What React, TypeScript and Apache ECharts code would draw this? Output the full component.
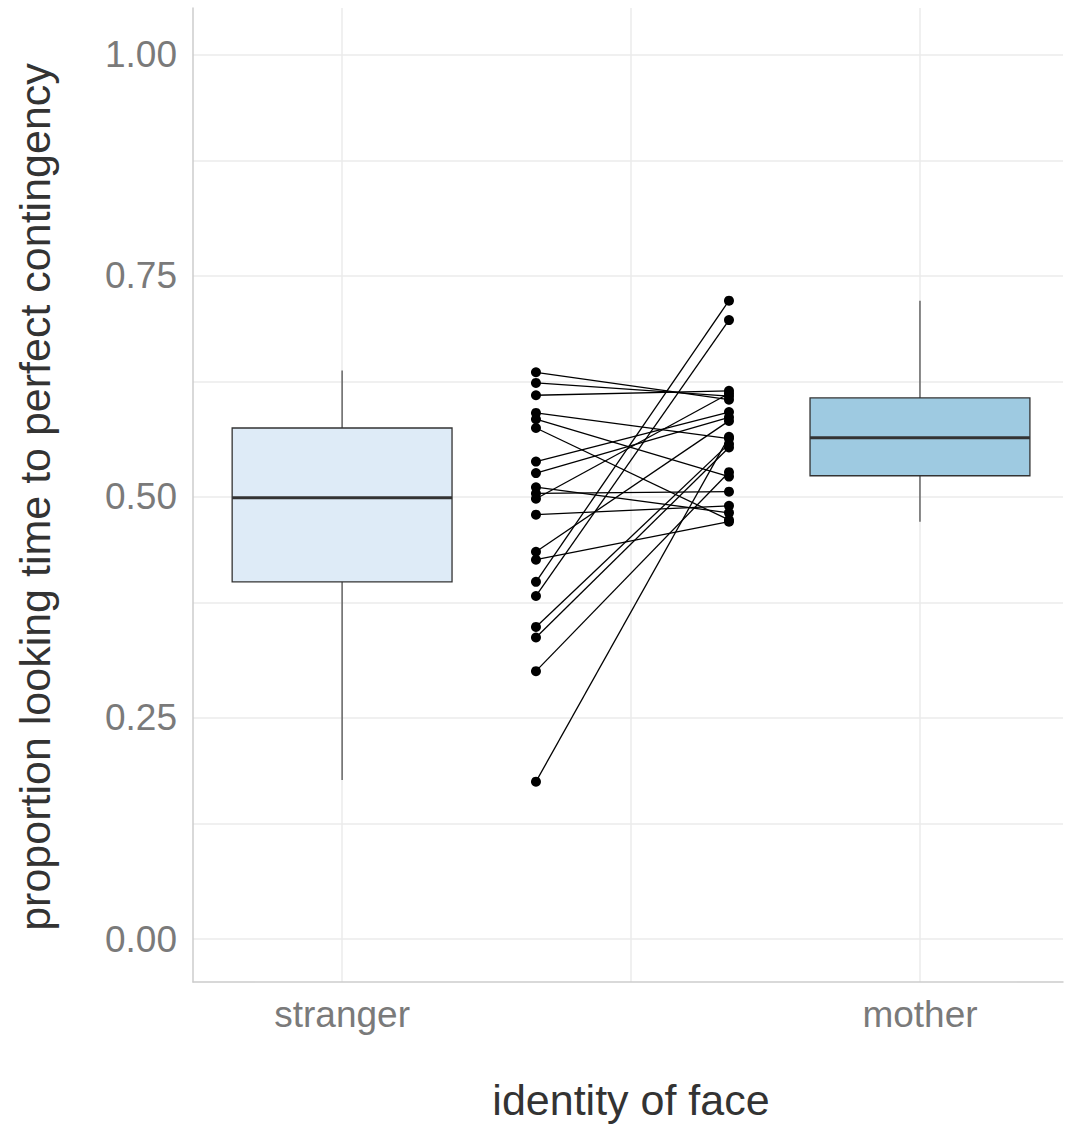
import React, { useEffect, useRef } from "react";
import * as echarts from "echarts";

// Categories on a continuous x scale (stranger = 1, mother = 3)
const categoryPositions = [1, 3];
const categoryLabels = ["stranger", "mother"];

// Box plot summaries: [x, lowerWhisker, q1, median, q3, upperWhisker]
const strangerBox = [1, 0.18, 0.404, 0.499, 0.578, 0.643];
const motherBox = [3, 0.472, 0.524, 0.567, 0.612, 0.722];
const boxFills = ["#deebf7", "#9ecae1"];

// Paired observations (per infant), drawn between the boxes
const pairX = [1.671, 2.339];
const strangerValues = [
  0.641, 0.629, 0.615, 0.595, 0.588, 0.578, 0.54, 0.527, 0.511, 0.504,
  0.498, 0.48, 0.438, 0.429, 0.404, 0.388, 0.353, 0.341, 0.303, 0.178,
];
const motherValues = [
  0.61, 0.614, 0.62, 0.566, 0.523, 0.474, 0.596, 0.59, 0.482, 0.506,
  0.617, 0.49, 0.586, 0.472, 0.722, 0.7, 0.56, 0.556, 0.528, 0.568,
];

// Tick labels and gridlines
const yTicks = [0, 0.25, 0.5, 0.75, 1];
const yGrid = [0, 0.125, 0.25, 0.375, 0.5, 0.625, 0.75, 0.875, 1];
const xGrid = [1, 2, 3];

const xTitle = "identity of face";
const yTitle = "proportion looking time to perfect contingency";

export default function App() {
  const ref = useRef<HTMLDivElement>(null);

  useEffect(() => {
    if (!ref.current) return;
    const chart = echarts.init(ref.current, null, { renderer: "svg" });

    const gridColor = "#ebebeb";
    const font = "Liberation Sans, Arial, sans-serif";
    const pairSeries = strangerValues.map((s, i) => ({
      type: "line",
      data: [
        [pairX[0], s],
        [pairX[1], motherValues[i]],
      ],
      symbol: "circle",
      symbolSize: 10,
      showSymbol: true,
      itemStyle: { color: "#000" },
      lineStyle: { color: "#000", width: 1.3 },
      z: 20,
      silent: true,
    }));

    const option: any = {
      animation: false,
      backgroundColor: "#ffffff",
      grid: { left: 193, right: 2, top: 8, bottom: 142, containLabel: false },
      xAxis: {
        type: "value",
        min: 0.484,
        max: 3.495,
        splitLine: { show: false },
        axisTick: { show: false },
        axisLine: { show: true, onZero: false, lineStyle: { color: "#cccccc", width: 1.5 } },
        axisLabel: {
          customValues: categoryPositions,
          formatter: (v: number) => {
            const idx = categoryPositions.indexOf(v);
            return idx >= 0 ? categoryLabels[idx] : "";
          },
          color: "#7a7a7a",
          fontSize: 37,
          fontFamily: font,
          margin: 14,
        },
      },
      yAxis: {
        type: "value",
        min: -0.0486,
        max: 1.053,
        splitLine: { show: false },
        axisTick: { show: false },
        axisLine: { show: true, onZero: false, lineStyle: { color: "#cccccc", width: 1.5 } },
        axisLabel: {
          customValues: yTicks,
          formatter: (v: number) => v.toFixed(2),
          color: "#7a7a7a",
          fontSize: 37,
          fontFamily: font,
          margin: 16,
        },
      },
      graphic: [
        {
          type: "text",
          x: 631,
          y: 1100,
          style: {
            text: xTitle,
            fill: "#333333",
            fontSize: 43,
            fontFamily: font,
            textAlign: "center",
            textVerticalAlign: "middle",
          },
        },
        {
          type: "text",
          x: 35,
          y: 497,
          rotation: Math.PI / 2,
          style: {
            text: yTitle,
            fill: "#333333",
            fontSize: 43,
            fontFamily: font,
            textAlign: "center",
            textVerticalAlign: "middle",
          },
        },
      ],
      series: [
        {
          type: "line",
          data: [],
          silent: true,
          z: 0,
          zlevel: 0,
          markLine: {
            silent: true,
            symbol: "none",
            z: 0,
            label: { show: false },
            lineStyle: { color: gridColor, width: 1.5, type: "solid" },
            data: [
              ...yGrid.map((v) => ({ yAxis: v })),
              ...xGrid.map((v) => ({ xAxis: v })),
            ],
          },
        },
        {
          type: "custom",
          z: 10,
          silent: true,
          data: [strangerBox, motherBox],
          encode: { x: 0, y: [1, 2, 3, 4, 5] },
          renderItem: (params: any, api: any) => {
            const x = api.value(0);
            const lo = api.coord([x, api.value(1)]);
            const q1 = api.coord([x, api.value(2)]);
            const med = api.coord([x, api.value(3)]);
            const q3 = api.coord([x, api.value(4)]);
            const hi = api.coord([x, api.value(5)]);
            const w = api.size([0.761, 0])[0];
            const left = lo[0] - w / 2;
            const fill = boxFills[params.dataIndex];
            return {
              type: "group",
              children: [
                {
                  type: "line",
                  shape: { x1: lo[0], y1: q1[1], x2: lo[0], y2: lo[1] },
                  style: { stroke: "#333333", lineWidth: 1.1 },
                },
                {
                  type: "line",
                  shape: { x1: hi[0], y1: q3[1], x2: hi[0], y2: hi[1] },
                  style: { stroke: "#333333", lineWidth: 1.1 },
                },
                {
                  type: "rect",
                  shape: { x: left, y: q3[1], width: w, height: q1[1] - q3[1] },
                  style: { fill, stroke: "#333333", lineWidth: 1.3 },
                },
                {
                  type: "line",
                  shape: { x1: left, y1: med[1], x2: left + w, y2: med[1] },
                  style: { stroke: "#333333", lineWidth: 3 },
                },
              ],
            };
          },
        },
        ...pairSeries,
      ],
    };

    chart.setOption(option);
    return () => chart.dispose();
  }, []);

  return (
    <div
      ref={ref}
      style={{ position: "fixed", left: 0, top: 0, width: 1065, height: 1124, background: "#fff" }}
    />
  );
}
